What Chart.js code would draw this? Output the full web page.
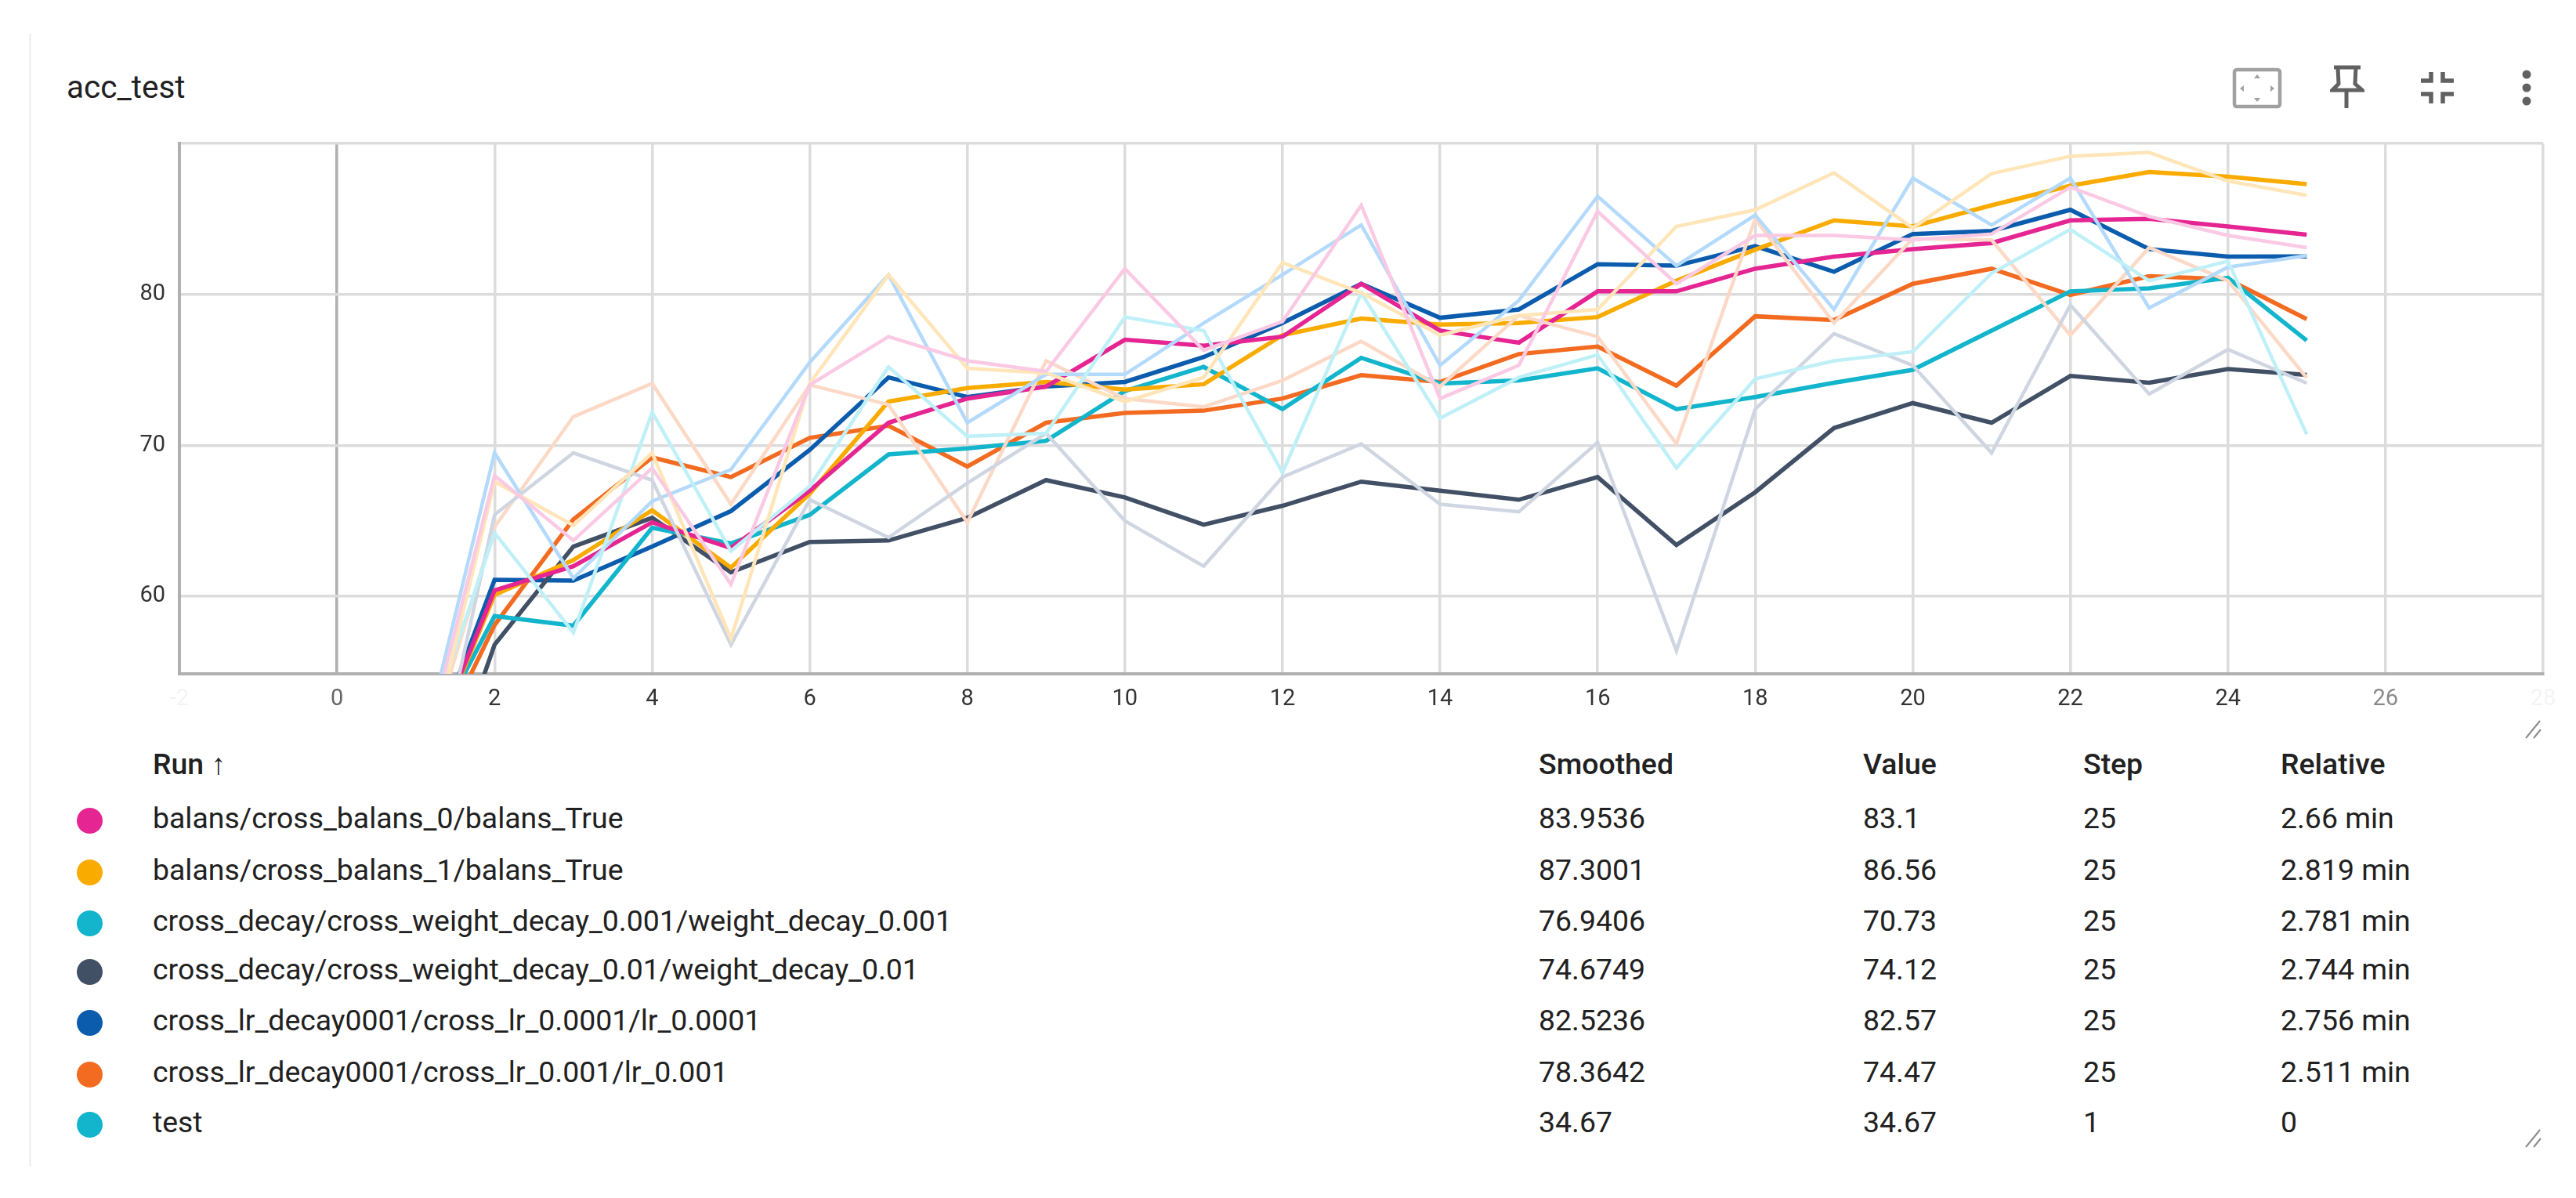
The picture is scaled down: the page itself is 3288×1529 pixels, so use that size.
<!DOCTYPE html>
<html>
<head>
<meta charset="utf-8">
<title>acc_test</title>
<script src="https://cdn.jsdelivr.net/npm/chart.js@4"></script>
<style>
html, body { margin: 0; padding: 0; background: #fff; }
body { width: 3288px; height: 1529px; position: relative; overflow: hidden; font-family: Roboto, sans-serif; color: #212121; }
#card { position: absolute; left: 37px; top: 43px; width: 3px; height: 1445px; background: #f1f1f1; }
#title { position: absolute; left: 85px; top: 87px; font-size: 40.5px; line-height: 48px; }
#wrap { position: absolute; left: 0; top: 0; }
.cell { position: absolute; font-size: 37.4px; line-height: 44px; white-space: nowrap; }
.head { font-weight: 500; }
.dot { position: absolute; width: 33px; height: 33px; border-radius: 50%; left: 98px; }
svg { position: absolute; }
</style>
</head>
<body>
<div id="card"></div>
<div id="title">acc_test</div>
<div id="wrap"><canvas id="chart" width="3288" height="940"></canvas></div>
<div id="table"></div>

<svg style="left:2848px;top:86px" width="66" height="54" viewBox="0 0 66 54">
  <rect x="4" y="3" width="58" height="47" rx="3" fill="none" stroke="#a0a0a0" stroke-width="4.5"/>
  <path d="M33 9l-4 5h8zM33 44l-4-5h8zM11 27l5-4v8zM55 27l-5-4v8z" fill="#a0a0a0"/>
</svg>
<svg style="left:2974px;top:82px" width="44" height="60" viewBox="0 0 44 60">
  <path d="M5 4H39M10 4L11 25L3 33H41L32 25L33 4M21 33V56" fill="none" stroke="#616161" stroke-width="5"/>
</svg>
<svg style="left:3088px;top:90px" width="46" height="44" viewBox="0 0 46 44">
  <path d="M15 2V13H2M30 2V13H44M15 42V30H2M30 42V30H44" fill="none" stroke="#616161" stroke-width="5.5"/>
</svg>
<svg style="left:3215px;top:86px" width="20" height="52" viewBox="0 0 20 52">
  <circle cx="10" cy="9" r="5.5" fill="#616161"/><circle cx="10" cy="26" r="5.5" fill="#616161"/><circle cx="10" cy="43" r="5.5" fill="#616161"/>
</svg>
<svg style="left:3222px;top:916px" width="24" height="28" viewBox="0 0 24 28">
  <path d="M2 26L20 4M12 26L21 15" stroke="#8a8a8a" stroke-width="2" fill="none"/>
</svg>
<svg style="left:3222px;top:1438px" width="24" height="28" viewBox="0 0 24 28">
  <path d="M2 26L20 4M12 26L21 15" stroke="#8a8a8a" stroke-width="2" fill="none"/>
</svg>

<script>
// x axis: training step
const steps = [1, 2, 3, 4, 5, 6, 7, 8, 9, 10, 11, 12, 13, 14, 15, 16, 17, 18, 19, 20, 21, 22, 23, 24, 25];
const xTicks = [-2, 0, 2, 4, 6, 8, 10, 12, 14, 16, 18, 20, 22, 24, 26, 28];
const yTicks = [60, 70, 80];

const runNames = [
  'balans/cross_balans_0/balans_True',
  'balans/cross_balans_1/balans_True',
  'cross_decay/cross_weight_decay_0.001/weight_decay_0.001',
  'cross_decay/cross_weight_decay_0.01/weight_decay_0.01',
  'cross_lr_decay0001/cross_lr_0.0001/lr_0.0001',
  'cross_lr_decay0001/cross_lr_0.001/lr_0.001',
  'test'
];
const runColors = ['#e52592', '#f9ab00', '#12b5cb', '#425066', '#0b5cad', '#f26b21', '#12b5cb'];
const rawColors = ['#fac9e4', '#ffe5b8', '#bff0f8', '#cfd6e2', '#b3d9fb', '#fcd9c6'];

// smoothed curves
const smoothPink = [47.5, 60.4, 62.0, 64.9, 63.2, 67.0, 71.5, 73.1, 73.9, 77.0, 76.6, 77.2, 80.7, 77.6, 76.8, 80.2, 80.2, 81.7, 82.5, 83.0, 83.4, 84.9, 85.0, 84.5, 83.95];
const smoothYellow = [47.5, 60.1, 62.4, 65.7, 61.9, 66.8, 72.9, 73.8, 74.2, 73.7, 74.05, 77.3, 78.4, 78.0, 78.1, 78.5, 80.9, 82.96, 84.9, 84.5, 85.9, 87.2, 88.1, 87.8, 87.3];
const smoothCyan = [48.7, 58.7, 58.06, 64.55, 63.5, 65.4, 69.4, 69.8, 70.3, 73.6, 75.2, 72.4, 75.8, 74.1, 74.3, 75.1, 72.4, 73.2, 74.15, 75.0, 77.6, 80.2, 80.4, 81.1, 76.94];
const smoothSlate = [41.8, 56.8, 63.3, 65.2, 61.6, 63.6, 63.7, 65.2, 67.7, 66.55, 64.75, 66.0, 67.6, 67.0, 66.4, 67.9, 63.4, 66.9, 71.15, 72.8, 71.5, 74.6, 74.15, 75.05, 74.67];
const smoothBlue = [47.2, 61.1, 61.04, 63.3, 65.65, 69.7, 74.5, 73.2, 73.9, 74.2, 75.85, 78.1, 80.7, 78.45, 79.0, 82.0, 81.9, 83.2, 81.5, 84.0, 84.2, 85.6, 83.0, 82.5, 82.52];
const smoothOrange = [47.3, 58.1, 65.1, 69.2, 67.9, 70.5, 71.3, 68.6, 71.5, 72.15, 72.3, 73.1, 74.65, 74.2, 76.05, 76.55, 73.95, 78.55, 78.3, 80.7, 81.7, 79.97, 81.2, 81.0, 78.36];

// raw values, drawn faint behind the smoothed curves
const rawPink = [47.5, 68.0, 63.7, 68.5, 60.8, 74.0, 77.2, 75.6, 74.9, 81.7, 76.3, 78.2, 85.9, 73.1, 75.3, 85.5, 80.7, 83.9, 83.9, 83.6, 84.0, 87.1, 85.15, 83.9, 83.1];
const rawYellow = [46.0, 67.6, 64.7, 69.5, 57.2, 74.1, 81.3, 75.1, 74.8, 72.9, 74.5, 82.1, 80.1, 77.3, 78.6, 79.0, 84.5, 85.6, 88.05, 84.4, 88.0, 89.15, 89.4, 87.5, 86.56];
const rawCyan = [48.7, 64.2, 57.6, 72.2, 63.0, 67.3, 75.2, 70.6, 70.8, 78.5, 77.6, 68.2, 80.1, 71.8, 74.5, 76.0, 68.5, 74.4, 75.6, 76.2, 81.4, 84.3, 80.9, 82.2, 70.73];
const rawSlate = [41.8, 65.4, 69.5, 67.7, 56.8, 66.4, 63.9, 67.5, 70.8, 65.0, 62.0, 67.9, 70.1, 66.1, 65.6, 70.2, 56.4, 72.4, 77.4, 75.3, 69.5, 79.3, 73.4, 76.35, 74.12];
const rawBlue = [48.0, 69.5, 61.2, 66.3, 68.4, 75.5, 81.3, 71.5, 74.7, 74.7, 78.1, 81.3, 84.6, 75.3, 79.6, 86.5, 81.9, 85.25, 79.0, 87.7, 84.6, 87.7, 79.1, 81.8, 82.57];
const rawOrange = [47.3, 64.6, 71.9, 74.1, 66.1, 74.0, 72.7, 64.9, 75.6, 73.1, 72.55, 74.3, 76.9, 73.9, 78.6, 77.2, 70.1, 85.0, 78.1, 83.7, 83.6, 77.3, 83.1, 80.9, 74.47];

// the test run only has one point, way below the visible range
const testSteps = [1];
const testValues = [34.67];

// table columns
const smoothedCol = ['83.9536', '87.3001', '76.9406', '74.6749', '82.5236', '78.3642', '34.67'];
const valueCol = ['83.1', '86.56', '70.73', '74.12', '82.57', '74.47', '34.67'];
const stepCol = ['25', '25', '25', '25', '25', '25', '1'];
const relativeCol = ['2.66 min', '2.819 min', '2.781 min', '2.744 min', '2.756 min', '2.511 min', '0'];

const rawSeries = [rawPink, rawYellow, rawCyan, rawSlate, rawBlue, rawOrange];
const smoothSeries = [smoothPink, smoothYellow, smoothCyan, smoothSlate, smoothBlue, smoothOrange];

function points(xs, ys) {
  return xs.map((x, i) => ({ x: x, y: ys[i] }));
}

const datasets = [];
rawSeries.forEach((vals, i) => {
  datasets.push({ data: points(steps, vals), borderColor: rawColors[i], borderWidth: 4.5 });
});
smoothSeries.forEach((vals, i) => {
  datasets.push({ data: points(steps, vals), borderColor: runColors[i], borderWidth: 5.5 });
});
datasets.push({ data: points(testSteps, testValues), borderColor: runColors[6], borderWidth: 5 });

const yMin = 54.87;
const yMax = 90;

new Chart(document.getElementById('chart').getContext('2d'), {
  type: 'line',
  data: { datasets: datasets },
  options: {
    responsive: false,
    animation: false,
    devicePixelRatio: 1,
    layout: { padding: { top: 183, right: 42, left: 0, bottom: 0 } },
    elements: { point: { radius: 0 }, line: { tension: 0, borderJoinStyle: 'miter' } },
    plugins: { legend: { display: false }, tooltip: { enabled: false } },
    scales: {
      x: {
        type: 'linear',
        min: -2,
        max: 28,
        afterBuildTicks: s => { s.ticks = xTicks.map(v => ({ value: v })); },
        afterFit: s => { s.height = 80; },
        border: { color: '#b0b0b0', width: 4 },
        grid: {
          drawTicks: false,
          lineWidth: 3.5,
          color: c => (c.tick.value === 0 ? '#b0b0b0' : '#dcdcdc')
        },
        ticks: {
          autoSkip: false,
          maxRotation: 0,
          padding: 15,
          font: { family: 'Roboto', size: 29 },
          color: c => {
            const v = c.tick.value;
            if (v === -2 || v === 28) return '#f4f4f4';
            if (v === 26) return '#8a8a8a';
            if (v === 0) return '#666666';
            return '#333333';
          },
          callback: v => String(v)
        }
      },
      y: {
        min: yMin,
        max: yMax,
        afterBuildTicks: s => { s.ticks = [yMin].concat(yTicks, [yMax]).map(v => ({ value: v })); },
        afterFit: s => { s.width = 229; },
        border: { color: '#b0b0b0', width: 4 },
        grid: { drawTicks: false, lineWidth: 3.5, color: '#dcdcdc' },
        ticks: {
          padding: 18,
          font: { family: 'Roboto', size: 29 },
          color: '#333333',
          callback: v => (yTicks.includes(v) ? String(v) : '')
        }
      }
    }
  }
});

// run table under the chart
const table = document.getElementById('table');
const rowCenters = [1044, 1110, 1175, 1237, 1302, 1368, 1432];
function addCell(text, left, center, cls) {
  const el = document.createElement('div');
  el.className = 'cell' + (cls ? ' ' + cls : '');
  el.textContent = text;
  el.style.left = left + 'px';
  el.style.top = (center - 22) + 'px';
  table.appendChild(el);
}
addCell('Run ↑', 195, 975, 'head');
addCell('Smoothed', 1964, 975, 'head');
addCell('Value', 2378, 975, 'head');
addCell('Step', 2659, 975, 'head');
addCell('Relative', 2911, 975, 'head');
runNames.forEach((name, i) => {
  const dot = document.createElement('div');
  dot.className = 'dot';
  dot.style.top = (rowCenters[i] + 3 - 16) + 'px';
  dot.style.background = runColors[i];
  table.appendChild(dot);
  addCell(name, 195, rowCenters[i]);
  addCell(smoothedCol[i], 1964, rowCenters[i]);
  addCell(valueCol[i], 2378, rowCenters[i]);
  addCell(stepCol[i], 2659, rowCenters[i]);
  addCell(relativeCol[i], 2911, rowCenters[i]);
});
</script>
</body>
</html>
